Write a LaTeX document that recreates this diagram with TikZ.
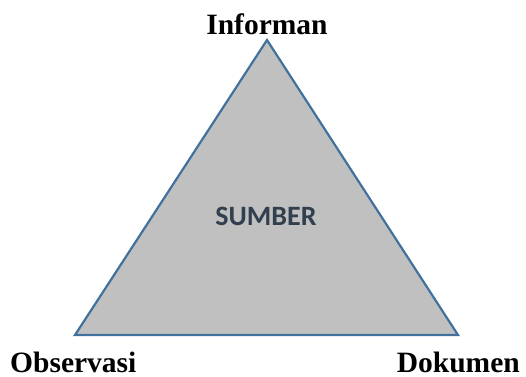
\documentclass[tikz,border=0pt]{standalone}
\usepackage{fontspec}
\setmainfont{Liberation Serif}
\newfontfamily\calfont{Carlito}
\definecolor{triFill}{HTML}{C0C0C0}
\definecolor{triLine}{HTML}{41719C}
\definecolor{sumText}{HTML}{323F4F}
\begin{document}
\begin{tikzpicture}[x=1pt,y=1pt,
  lbl/.style={font=\fontsize{29.5}{31}\selectfont\bfseries, inner sep=0pt, text depth=0pt},
  ctr/.style={font=\calfont\fontsize{28}{30}\selectfont\bfseries, text=sumText, inner sep=0pt}]
\useasboundingbox (0,0) rectangle (526,376);
\coordinate (top) at (267,336);
\coordinate (bl) at (75,41);
\coordinate (br) at (458,41);
\draw[fill=triFill, draw=triLine, line width=2.2pt, line join=miter] (top) -- (bl) -- (br) -- cycle;
\node[ctr] (sumber) at (266,160) {SUMBER};
\node[lbl, anchor=base] (inf) at (267,342) {Informan};
\node[lbl, anchor=base west] (obs) at (10,4) {Observasi};
\node[lbl, anchor=base east] (dok) at (520,4) {Dokumen};
\end{tikzpicture}
\end{document}
